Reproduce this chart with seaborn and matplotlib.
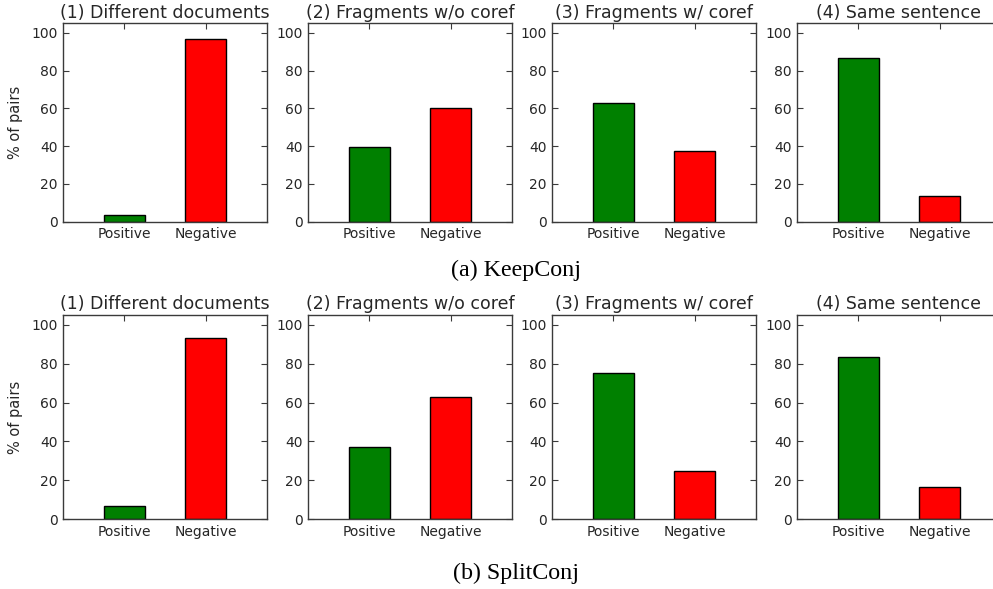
import matplotlib
matplotlib.use("Agg")
import matplotlib.pyplot as plt
import seaborn as sns
import pandas as pd

# Share of positive / negative pairs for each context type
panel_titles = ["(1) Different documents", "(2) Fragments w/o coref",
                "(3) Fragments w/ coref", "(4) Same sentence"]
classes = ["Positive", "Negative"]
keepconj_positive = [3.5, 39.7, 62.8, 86.6]
keepconj_negative = [96.5, 60.3, 37.2, 13.4]
splitconj_positive = [6.6, 37.0, 75.0, 83.5]
splitconj_negative = [93.4, 63.0, 25.0, 16.5]
y_ticks = [0, 20, 40, 60, 80, 100]
row_captions = ["(a) KeepConj", "(b) SplitConj"]

sns.set_theme(style="white")
plt.rcParams["font.family"] = ["DejaVu Sans"]
text_color = "#262626"
spine_color = "#3a3a3a"

W, H = 993, 589
fig = plt.figure(figsize=(W / 100, H / 100), dpi=100)

col_left_px = [63, 308, 552, 797]
axes_width_px = 204
rows = [
    dict(top=23.3, bottom=221.7, pos=keepconj_positive, neg=keepconj_negative,
         caption_y=270),
    dict(top=315.0, bottom=519.3, pos=splitconj_positive, neg=splitconj_negative,
         caption_y=573),
]
palette = {"Positive": "#008000", "Negative": "#ff0000"}

for r, row in enumerate(rows):
    for c in range(4):
        left = col_left_px[c] / W
        bottom = 1 - row["bottom"] / H
        height = (row["bottom"] - row["top"]) / H
        ax = fig.add_axes([left, bottom, axes_width_px / W, height])
        df = pd.DataFrame({"label": classes,
                           "pct": [row["pos"][c], row["neg"][c]]})
        sns.barplot(data=df, x="label", y="pct", hue="label", palette=palette,
                    width=0.5, edgecolor="black", linewidth=1.0, saturation=1,
                    legend=False, ax=ax)
        ax.set_xlim(-0.75, 1.75)
        ax.set_ylim(0, 105)
        ax.set_yticks(y_ticks)
        ax.set_xlabel("")
        ax.set_ylabel("% of pairs" if c == 0 else "", fontsize=10.5,
                      color=text_color, labelpad=6)
        ax.set_title(panel_titles[c], fontsize=12.5, color=text_color, pad=4)
        ax.tick_params(axis="both", which="major", direction="in", length=4,
                       width=0.8, color=spine_color, labelsize=10,
                       labelcolor=text_color, top=True, right=True,
                       bottom=True, left=True, pad=4)
        for s in ax.spines.values():
            s.set_color(spine_color)
            s.set_linewidth(1.0)
            s.set_visible(True)

    fig.text(516 / W, 1 - row["caption_y"] / H, row_captions[r],
             ha="center", va="center", fontsize=17.3,
             family=["Liberation Serif", "DejaVu Serif"], color="black")

fig.savefig("out.png", dpi=100)
